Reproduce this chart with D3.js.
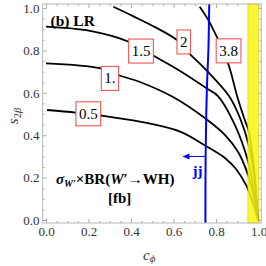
<!DOCTYPE html>
<html><head><meta charset="utf-8">
<script src="https://cdn.jsdelivr.net/npm/d3@7"></script>
<style>html,body{margin:0;padding:0;background:#fff;}svg{display:block;}</style>
</head><body>
<script>
// ---- data ----
const levels = ["0.5", "1.", "1.5", "2", "3.8"];
const curve05 = [[0.005,0.519],[0.141,0.507],[0.259,0.493],[0.442,0.464],[0.631,0.417],[0.753,0.349],[0.8,0.321],[0.847,0.288],[0.894,0.241],[0.944,0.160],[0.969,0.094],[0.998,0.0]];
const curve10 = [[0.0,0.739],[0.254,0.716],[0.339,0.684],[0.442,0.651],[0.598,0.580],[0.755,0.475],[0.847,0.396],[0.904,0.321],[0.946,0.226],[0.974,0.127],[0.998,0.0]];
const curve15 = [[0.0,0.912],[0.207,0.892],[0.386,0.842],[0.513,0.771],[0.631,0.703],[0.753,0.623],[0.809,0.585],[0.889,0.448],[0.949,0.283],[0.974,0.165],[0.998,0.0]];
const curve20 = [[0.317,1.006],[0.409,0.962],[0.513,0.910],[0.616,0.849],[0.682,0.778],[0.753,0.708],[0.861,0.585],[0.913,0.481],[0.955,0.349],[0.979,0.212],[0.998,0.0]];
const curve38 = [[0.723,1.006],[0.772,0.929],[0.856,0.741],[0.899,0.585],[0.932,0.481],[0.955,0.415],[0.974,0.283],[0.988,0.142],[0.998,0.0]];
const curves = [curve05, curve10, curve15, curve20, curve38];
const labelC = [0.199, 0.301, 0.447, 0.648, 0.859];
const labelS = [0.501, 0.668, 0.797, 0.840, 0.798];
const jjLine = [[0.750,-0.014],[0.751,0.30],[0.754,0.5],[0.758,0.65],[0.764,0.8],[0.768,1.019]];
const jjArrowC = [0.751, 0.642];
const jjArrowS = 0.30;
const bandC = [0.95, 1.0];
const xTicks = [0.0, 0.2, 0.4, 0.6, 0.8, 1.0];
const yTicks = [0.0, 0.2, 0.4, 0.6, 0.8, 1.0];
const minorTicks = d3.range(0, 21).map(i => i * 0.05).filter(v => Math.abs(v * 5 - Math.round(v * 5)) > 1e-6);

// ---- chart ----
const W = 266, H = 266;
const serif = "'Liberation Serif','Times New Roman',serif";
const svg = d3.select("body").append("svg").attr("width", W).attr("height", H);
const xDom = [-0.016, 1.013], yDom = [-0.014, 1.019];
const x = d3.scaleLinear().domain(xDom).range([42.6, 261.3]);
const y = d3.scaleLinear().domain(yDom).range([223, 4]);
const x0 = x(xDom[0]), x1 = x(xDom[1]), y0 = y(yDom[0]), y1 = y(yDom[1]);

// axes with inward ticks
function styleAxis(g) {
  g.select(".domain").remove();
  g.selectAll(".tick line").attr("stroke", "#999").attr("stroke-width", 0.8);
  g.selectAll(".tick text").attr("font-family", serif).attr("font-size", 13).attr("fill", "#333");
}
const fmt = d3.format(".1f");
svg.append("g").attr("transform", `translate(0,${y0})`)
  .call(d3.axisBottom(x).tickValues(xTicks).tickSize(-4).tickPadding(4).tickFormat(fmt)).call(styleAxis);
svg.append("g").attr("transform", `translate(0,${y0})`)
  .call(d3.axisBottom(x).tickValues(minorTicks).tickSize(-2).tickFormat("")).call(styleAxis);
svg.append("g").attr("transform", `translate(0,${y1})`)
  .call(d3.axisTop(x).tickValues(xTicks).tickSize(-4).tickFormat("")).call(styleAxis);
svg.append("g").attr("transform", `translate(0,${y1})`)
  .call(d3.axisTop(x).tickValues(minorTicks).tickSize(-2).tickFormat("")).call(styleAxis);
svg.append("g").attr("transform", `translate(${x0},0)`)
  .call(d3.axisLeft(y).tickValues(yTicks).tickSize(-4).tickPadding(3).tickFormat(fmt)).call(styleAxis);
svg.append("g").attr("transform", `translate(${x0},0)`)
  .call(d3.axisLeft(y).tickValues(minorTicks).tickSize(-2).tickFormat("")).call(styleAxis);
svg.append("g").attr("transform", `translate(${x1},0)`)
  .call(d3.axisRight(y).tickValues(yTicks).tickSize(-4).tickFormat("")).call(styleAxis);
svg.append("g").attr("transform", `translate(${x1},0)`)
  .call(d3.axisRight(y).tickValues(minorTicks).tickSize(-2).tickFormat("")).call(styleAxis);

// contour curves
const line = d3.line().x(d => x(d[0])).y(d => y(d[1])).curve(d3.curveCatmullRom.alpha(0.5));
svg.append("g").selectAll("path").data(curves).join("path")
  .attr("d", line).attr("fill", "none").attr("stroke", "#000").attr("stroke-width", 1.8);

// yellow band
svg.append("rect").attr("x", x(bandC[0])).attr("y", y1)
  .attr("width", x(bandC[1]) - x(bandC[0])).attr("height", y0 - y1)
  .attr("fill", "#f9f50f").attr("fill-opacity", 0.86)
  .attr("stroke", "#d6d300").attr("stroke-width", 0.6);

// blue jj line
svg.append("path").datum(jjLine).attr("d", line).attr("fill", "none")
  .attr("stroke", "#0000ff").attr("stroke-width", 2);
// arrow
const ay = y(jjArrowS);
svg.append("line").attr("x1", x(jjArrowC[0])).attr("x2", x(jjArrowC[1]) + 4)
  .attr("y1", ay).attr("y2", ay).attr("stroke", "#0000ff").attr("stroke-width", 1);
const ax = x(jjArrowC[1]);
svg.append("path").attr("d", `M${ax},${ay} L${ax + 7},${ay - 3} L${ax + 7},${ay + 3} Z`).attr("fill", "#0000ff");
svg.append("text").attr("x", x(jjArrowC[0]) - 13).attr("y", ay + 20)
  .attr("font-family", serif).attr("font-weight", "bold").attr("font-size", 15)
  .attr("fill", "#0000ff").text("jj");

// contour labels
const lg = svg.append("g");
levels.forEach((lv, i) => {
  const cx = x(labelC[i]), cy = y(labelS[i]);
  const r = lg.append("rect");
  const t = lg.append("text").attr("x", cx).attr("y", cy + 5).attr("text-anchor", "middle")
    .attr("font-family", serif).attr("font-size", 15).attr("fill", "#000").text(lv);
  const w = t.node().getComputedTextLength() + 6;
  r.attr("x", cx - w / 2).attr("y", cy - 12).attr("width", w).attr("height", 24)
    .attr("fill", "#fff").attr("stroke", "#f25555").attr("stroke-width", 1.1);
});

// annotations
svg.append("text").attr("x", 50.5).attr("y", 26).attr("font-family", serif)
  .attr("font-weight", "bold").attr("font-size", 15.5).attr("fill", "#000").text("(b) LR");

const st = svg.append("text").attr("x", 56).attr("y", 184).attr("font-family", serif)
  .attr("font-weight", "bold").attr("font-size", 15).attr("fill", "#000");
st.append("tspan").attr("font-style", "italic").text("σ");
st.append("tspan").attr("font-style", "italic").attr("font-size", 10).attr("dy", 3).text("W′");
st.append("tspan").attr("dy", -3).text("×BR(");
st.append("tspan").attr("font-style", "italic").text("W");
st.append("tspan").text("′→WH)");
svg.append("text").attr("x", 108).attr("y", 203).attr("font-family", serif)
  .attr("font-weight", "bold").attr("font-size", 15).attr("fill", "#000").text("[fb]");

// axis titles
const yt = svg.append("text").attr("transform", "translate(18,116) rotate(-90)")
  .attr("text-anchor", "middle").attr("font-family", serif).attr("font-size", 15).attr("fill", "#333");
yt.append("tspan").attr("font-style", "italic").text("s");
yt.append("tspan").attr("font-size", 10.5).attr("dy", 3).text("2");
yt.append("tspan").attr("font-size", 10.5).attr("font-style", "italic").text("β");

const xt = svg.append("text").attr("x", 143).attr("y", 260)
  .attr("font-family", serif).attr("font-size", 15).attr("fill", "#333");
xt.append("tspan").attr("font-style", "italic").text("c");
xt.append("tspan").attr("font-style", "italic").attr("font-size", 11).attr("dy", 2).text("ϕ");

// frame
svg.append("rect").attr("x", x0).attr("y", y1).attr("width", x1 - x0).attr("height", y0 - y1)
  .attr("fill", "none").attr("stroke", "#b8b8b8").attr("stroke-width", 1);
</script>
</body></html>
